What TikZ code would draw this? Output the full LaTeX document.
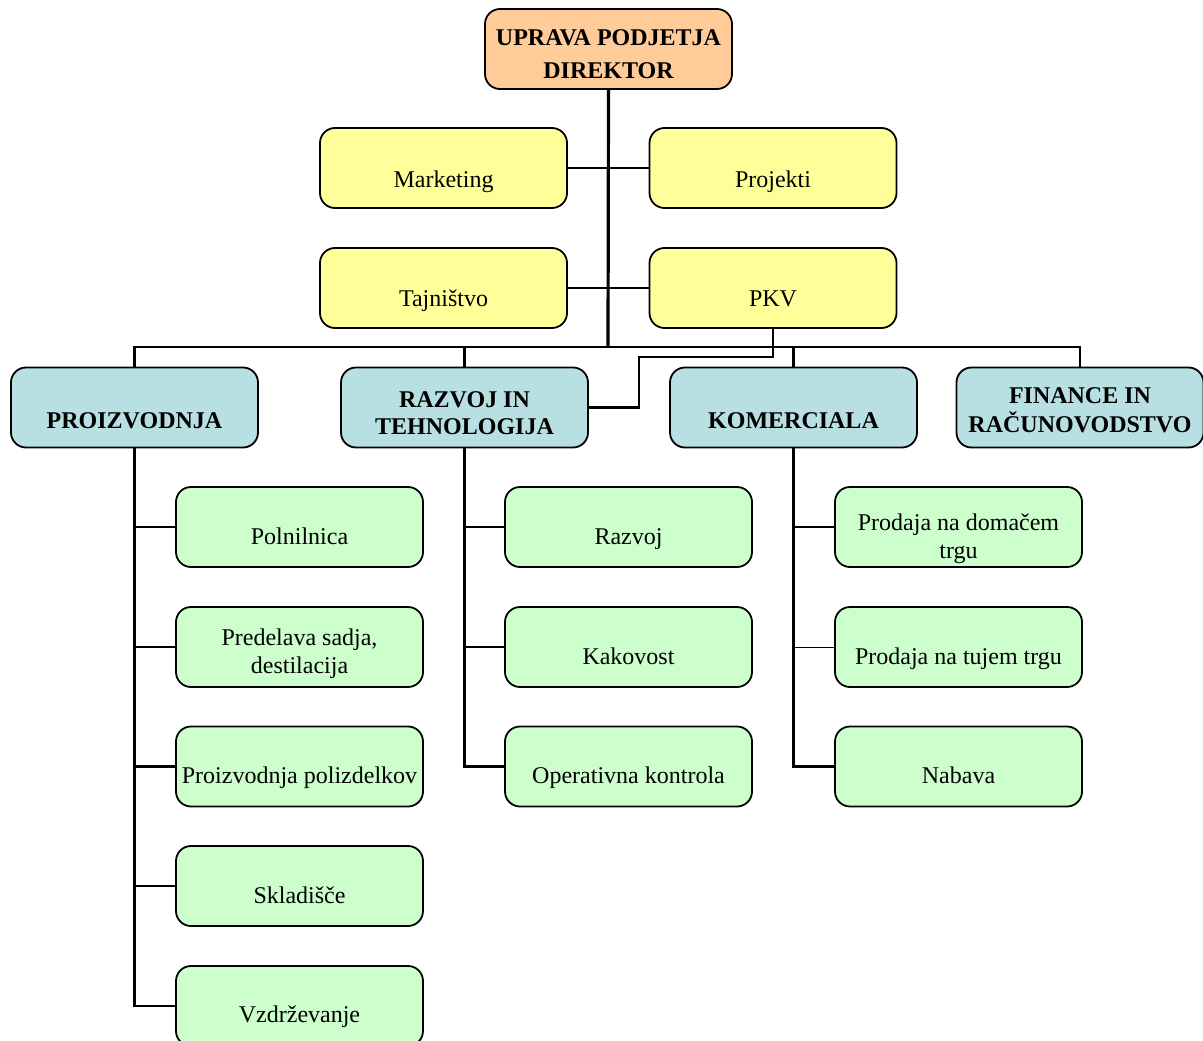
\documentclass[tikz,border=0pt]{standalone}
\usepackage{fontspec}
\setmainfont{Liberation Serif}
\definecolor{headfill}{RGB}{255,204,153}
\definecolor{stafffill}{RGB}{255,255,153}
\definecolor{deptfill}{RGB}{184,223,226}
\definecolor{unitfill}{RGB}{204,255,204}
\tikzset{
  box/.style={draw, line width=1.8pt, rounded corners=15pt, minimum width=247pt,
              minimum height=80pt, inner sep=0pt},
  lab/.style={anchor=base, inner sep=0pt, font=\fontsize{24}{28.5}\selectfont},
  blab/.style={anchor=base, inner sep=0pt, font=\fontsize{24}{27}\selectfont\bfseries},
  hlab/.style={anchor=base, inner sep=0pt, font=\fontsize{24}{33}\selectfont\bfseries},
  link/.style={line width=2.5pt},
  mainlink/.style={line width=3.2pt},
  thinlink/.style={line width=1pt},
}
% two centred lines whose baseline is that of the first line
\newcommand\twolines[2]{\begin{tabular}[t]{@{}c@{}}#1\\#2\end{tabular}}
% \orgbox{name}{fill}{x}{y}{text style}{baseline drop}{text}
\newcommand\orgbox[7]{%
  \node[box, fill=#2] (#1) at (#3,#4) {};
  \node[#5] (#1-t) at ([yshift=-#6pt]#1.center) {#7};}
\begin{document}
\begin{tikzpicture}[x=1pt, y=-1pt]
\useasboundingbox (0,0) rectangle (1203,1041);

% management and staff
\orgbox{top}{headfill}{608.5}{49}{hlab}{-3.5}{\twolines{UPRAVA PODJETJA}{DIREKTOR}}
\orgbox{mkt}{stafffill}{443.5}{168}{lab}{19}{Marketing}
\orgbox{prj}{stafffill}{773}{168}{lab}{19}{Projekti}
\orgbox{taj}{stafffill}{443.5}{288}{lab}{18.5}{Tajništvo}
\orgbox{pkv}{stafffill}{773}{288}{lab}{18.5}{PKV}

% departments
\orgbox{proi}{deptfill}{134.5}{407.5}{blab}{20.5}{PROIZVODNJA}
\orgbox{razv}{deptfill}{464.5}{407.5}{blab}{-0.5}{\twolines{RAZVOJ IN}{TEHNOLOGIJA}}
\orgbox{kom}{deptfill}{793.5}{407.5}{blab}{20.5}{KOMERCIALA}
\orgbox{fin}{deptfill}{1080}{407.5}{blab}{-4}{\twolines{FINANCE IN}{RAČUNOVODSTVO}}

% production units
\orgbox{pol}{unitfill}{299.5}{527}{lab}{17}{Polnilnica}
\orgbox{pred}{unitfill}{299.5}{647}{lab}{-2}{\twolines{Predelava sadja,}{destilacija}}
\orgbox{polz}{unitfill}{299.5}{766.5}{lab}{17}{Proizvodnja polizdelkov}
\orgbox{skl}{unitfill}{299.5}{886}{lab}{17}{Skladišče}
\orgbox{vzd}{unitfill}{299.5}{1006}{lab}{16}{Vzdrževanje}

% development units
\orgbox{raz}{unitfill}{628.5}{527}{lab}{17}{Razvoj}
\orgbox{kak}{unitfill}{628.5}{647}{lab}{17}{Kakovost}
\orgbox{ope}{unitfill}{628.5}{766.5}{lab}{17}{Operativna kontrola}

% commercial units
\orgbox{dom}{unitfill}{958.5}{527}{lab}{3}{\twolines{Prodaja na domačem}{trgu}}
\orgbox{tuj}{unitfill}{958.5}{647}{lab}{17}{Prodaja na tujem trgu}
\orgbox{nab}{unitfill}{958.5}{766.5}{lab}{17}{Nabava}

% connectors
\coordinate (bus) at (608,347);
\coordinate (pk1) at (639,357);
\draw[mainlink] (top.south) -- (bus);
\draw[link] (mkt.east) -- (prj.west);
\draw[link] (taj.east) -- (pkv.west);
\draw[link] (proi.north) |- (bus) -| (fin.north);
\draw[link] (razv.north) -- (razv.north |- bus);
\draw[link] (kom.north) -- (kom.north |- bus);
\draw[link] (pkv.south) |- (pk1) |- (razv.east);

\draw[link] (proi.south) |- (vzd.west);
\foreach \u in {pol,pred,polz,skl}
  \draw[link] (proi.south |- \u.west) -- (\u.west);

\draw[link] (razv.south) |- (ope.west);
\foreach \u in {raz,kak}
  \draw[link] (razv.south |- \u.west) -- (\u.west);

\draw[link] (kom.south) |- (nab.west);
\draw[link] (kom.south |- dom.west) -- (dom.west);
\draw[thinlink] (kom.south |- tuj.west) -- (tuj.west);
\end{tikzpicture}
\end{document}
